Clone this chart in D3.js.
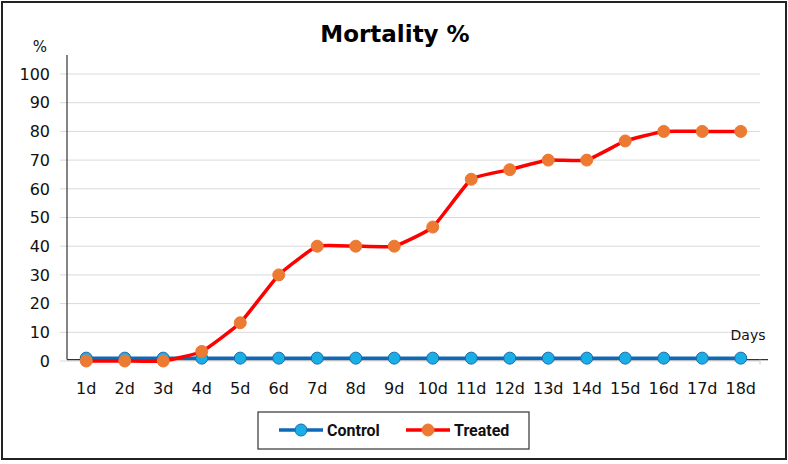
<!DOCTYPE html>
<html>
<head>
<meta charset="utf-8">
<script src="https://cdn.jsdelivr.net/npm/d3@7"></script>
<style>
  body { margin: 0; background: #fff; }
  svg { display: block; }
</style>
</head>
<body>
<svg id="chart" width="788" height="464"></svg>
<script>
// chart data
var days = ['1d', '2d', '3d', '4d', '5d', '6d', '7d', '8d', '9d', '10d', '11d', '12d', '13d', '14d', '15d', '16d', '17d', '18d'];
var control = [1, 1, 1, 1, 1, 1, 1, 1, 1, 1, 1, 1, 1, 1, 1, 1, 1, 1];
var treated = [0, 0, 0, 3.33, 13.33, 30, 40, 40, 40, 46.67, 63.33, 66.67, 70, 70, 76.67, 80, 80, 80];
var yTicks = [0, 10, 20, 30, 40, 50, 60, 70, 80, 90, 100];

var svg = d3.select('#chart');
var tickFont = '"DejaVu Sans", sans-serif';

// outer frame
svg.append('rect')
  .attr('x', 2).attr('y', 2)
  .attr('width', 784).attr('height', 457)
  .attr('fill', '#fff')
  .attr('stroke', '#222')
  .attr('stroke-width', 2);

var x = d3.scaleBand().domain(days).range([67, 760]);
var y = d3.scaleLinear().domain([0, 100]).range([361, 74]);

// gridlines
svg.append('g')
  .selectAll('line')
  .data(yTicks)
  .enter()
  .append('line')
  .attr('x1', 60).attr('x2', 760)
  .attr('y1', function (d) { return y(d); })
  .attr('y2', function (d) { return y(d); })
  .attr('stroke', '#d9d9d9')
  .attr('stroke-width', 1);

// y axis labels
svg.append('g')
  .selectAll('text')
  .data(yTicks)
  .enter()
  .append('text')
  .attr('x', 50)
  .attr('y', function (d) { return y(d); })
  .attr('dy', '0.36em')
  .attr('text-anchor', 'end')
  .attr('font-family', tickFont)
  .attr('font-size', 16)
  .attr('fill', '#111')
  .text(function (d) { return d; });

// y axis line
svg.append('line')
  .attr('x1', 67).attr('x2', 67)
  .attr('y1', 55).attr('y2', y(0.5))
  .attr('stroke', '#333').attr('stroke-width', 1.2);

// x axis line
svg.append('line')
  .attr('x1', 67).attr('x2', 768)
  .attr('y1', y(0.5)).attr('y2', y(0.5))
  .attr('stroke', '#333').attr('stroke-width', 1.2);
svg.append('line')
  .attr('x1', 760).attr('x2', 760)
  .attr('y1', y(0.5)).attr('y2', y(0.5) + 5)
  .attr('stroke', '#ccc');

// x labels
svg.append('g')
  .selectAll('text')
  .data(days)
  .enter()
  .append('text')
  .attr('x', function (d) { return x(d) + x.bandwidth() / 2; })
  .attr('y', 394)
  .attr('text-anchor', 'middle')
  .attr('font-family', tickFont)
  .attr('font-size', 16)
  .attr('fill', '#111')
  .text(function (d) { return d; });

// axis titles
svg.append('text')
  .attr('x', 40).attr('y', 52)
  .attr('text-anchor', 'middle')
  .attr('font-family', tickFont)
  .attr('font-size', 15)
  .attr('fill', '#111')
  .text('%');
svg.append('text')
  .attr('x', 748).attr('y', 340)
  .attr('text-anchor', 'middle')
  .attr('font-family', tickFont)
  .attr('font-size', 14)
  .attr('fill', '#111')
  .text('Days');

// title
svg.append('text')
  .attr('x', 395).attr('y', 42)
  .attr('text-anchor', 'middle')
  .attr('font-family', tickFont)
  .attr('font-weight', 'bold')
  .attr('font-size', 23)
  .attr('fill', '#000')
  .text('Mortality %');

// series
var series = [
  { name: 'Control', values: control, line: '#0e6ab8', fill: '#1aaee6', stroke: '#1a6aa8', curve: d3.curveLinear },
  { name: 'Treated', values: treated, line: '#ff0000', fill: '#ec7a33', stroke: '#ec7a33', curve: d3.curveCardinal.tension(0.6) }
];

series.forEach(function (s) {
  var line = d3.line()
    .x(function (d, i) { return x(days[i]) + x.bandwidth() / 2; })
    .y(function (d) { return y(d); })
    .curve(s.curve);

  svg.append('path')
    .datum(s.values)
    .attr('d', line)
    .attr('fill', 'none')
    .attr('stroke', s.line)
    .attr('stroke-width', 3.5);

  svg.append('g')
    .selectAll('circle')
    .data(s.values)
    .enter()
    .append('circle')
    .attr('cx', function (d, i) { return x(days[i]) + x.bandwidth() / 2; })
    .attr('cy', function (d) { return y(d); })
    .attr('r', 6)
    .attr('fill', s.fill)
    .attr('stroke', s.stroke)
    .attr('stroke-width', 1);
});

// legend
var legend = svg.append('g');
legend.append('rect')
  .attr('x', 258).attr('y', 412)
  .attr('width', 271).attr('height', 37)
  .attr('fill', '#fff')
  .attr('stroke', '#333')
  .attr('stroke-width', 1.2);

var legendX = [279, 406];
series.forEach(function (s, i) {
  var lx = legendX[i];
  legend.append('line')
    .attr('x1', lx).attr('x2', lx + 44)
    .attr('y1', 430).attr('y2', 430)
    .attr('stroke', s.line).attr('stroke-width', 3.5);
  legend.append('circle')
    .attr('cx', lx + 22).attr('cy', 430).attr('r', 6)
    .attr('fill', s.fill).attr('stroke', s.stroke);
  legend.append('text')
    .attr('x', lx + 48).attr('y', 430)
    .attr('dy', '0.36em')
    .attr('font-family', 'Roboto, sans-serif')
    .attr('font-weight', 'bold')
    .attr('font-size', 16)
    .attr('fill', '#111')
    .text(s.name);
});
</script>
</body>
</html>
